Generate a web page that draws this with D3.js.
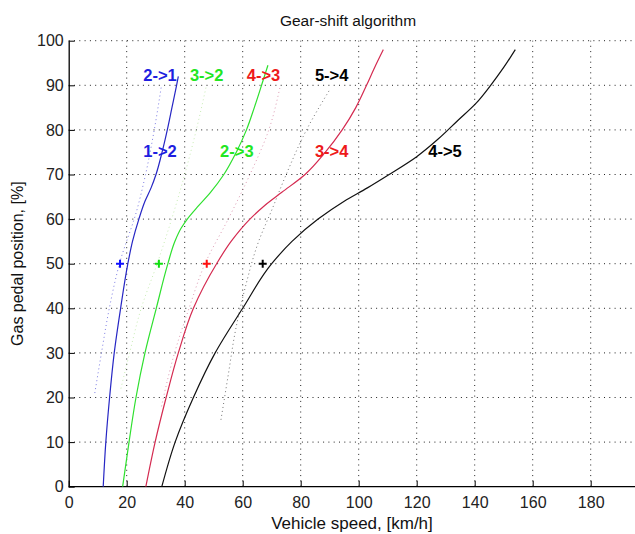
<!DOCTYPE html>
<html>
<head>
<meta charset="utf-8">
<script src="https://cdn.jsdelivr.net/npm/d3@7"></script>
<style>
  body { margin: 0; background: #fff; }
  svg text { font-family: "Liberation Sans", Arial, sans-serif; }
</style>
</head>
<body>
<div id="chart"></div>
<script>
// upshift curves (solid): pedal position [%] -> speed [km/h]
var up12Pedal = [0, 10, 20, 30, 40, 50, 55, 60, 64, 67, 70, 75, 80, 85, 90, 92];
var up12Speed = [11.9, 12.8, 14.1, 15.7, 17.9, 20.4, 22, 24.2, 26.3, 28.4, 30.1, 32.2, 34, 35.6, 37.2, 37.8];
var up23Pedal = [0, 10, 20, 30, 40, 50, 55, 58, 60, 63, 66, 70, 75, 80, 85, 90, 94.5];
var up23Speed = [18.6, 20.8, 23.2, 26.3, 30.2, 34.2, 36.6, 38.8, 40.9, 44.8, 48.9, 53.5, 57.8, 61.3, 64, 66.5, 68.7];
var up34Pedal = [0, 10, 20, 30, 40, 50, 55, 60, 63, 66, 70, 75, 80, 85, 90, 94, 98];
var up34Speed = [26.6, 29.8, 33.6, 37.8, 43, 51, 56, 62.5, 67.5, 73.5, 81.5, 88.5, 94.3, 99, 102.7, 105.5, 108.5];
var up45Pedal = [0, 10, 20, 30, 40, 50, 55, 60, 64, 67, 70, 74, 78, 82, 86, 90, 94, 98];
var up45Speed = [32.1, 36.7, 43, 50.5, 60, 70, 77, 86, 95, 103, 110.5, 120, 127.5, 134, 140.5, 145.5, 150, 154];

// downshift curves (dotted)
var down21Pedal = [21, 30, 40, 50, 62, 70, 80, 90];
var down21Speed = [9, 11.3, 14, 17.5, 23.5, 26.5, 29.5, 32];
var down32Pedal = [22, 30, 40, 50, 60, 70, 80, 90];
var down32Speed = [18, 21, 25, 30.5, 35.5, 40, 44, 47.5];
var down43Pedal = [18, 30, 40, 50, 60, 70, 80, 90];
var down43Speed = [32, 36.5, 41.5, 47, 55, 62.5, 69, 73];
var down54Pedal = [15, 25, 35, 45, 55, 62, 70, 80, 89];
var down54Speed = [52.5, 55, 57.5, 61, 65.5, 70, 75, 82, 90];

// markers at 50 %
var markSpeed = [17.7, 31.1, 47.6, 66.9];
var markPedal = [50, 50, 50, 50];

// labels
var labelText  = ["2->1", "3->2", "4->3", "5->4", "1->2", "2->3", "3->4", "4->5"];
var labelSpeed = [25.7, 41.8, 61.4, 84.9, 25.7, 52.2, 84.9, 124];
var labelPedal = [92.2, 92.2, 92.2, 92.2, 75.3, 75.3, 75.3, 75.3];

var xTicks = [0, 20, 40, 60, 80, 100, 120, 140, 160, 180];
var yTicks = [0, 10, 20, 30, 40, 50, 60, 70, 80, 90, 100];

var W = 635, H = 534;
var plotLeft = 68.7, plotTop = 40.7, plotBottom = 486.7;

var svg = d3.select("#chart").append("svg")
    .attr("width", W)
    .attr("height", H);

var x = d3.scaleLinear().domain([0, 196]).range([plotLeft, plotLeft + 196 * 2.9]);
var y = d3.scaleLinear().domain([0, 100]).range([plotBottom, plotTop]);

// dotted grid
svg.append("g").selectAll("line")
    .data(xTicks.slice(1))
    .enter().append("line")
    .attr("x1", d => x(d)).attr("x2", d => x(d))
    .attr("y1", y(0)).attr("y2", y(100))
    .attr("stroke", "#222").attr("stroke-width", 1)
    .attr("stroke-dasharray", "1,4.3");
svg.append("g").selectAll("line")
    .data(yTicks.slice(1))
    .enter().append("line")
    .attr("x1", x(0)).attr("x2", W)
    .attr("y1", d => y(d)).attr("y2", d => y(d))
    .attr("stroke", "#222").attr("stroke-width", 1)
    .attr("stroke-dasharray", "1,4.3");

// axes
var xAxis = d3.axisBottom(x).tickValues(xTicks).tickSizeInner(-6).tickSizeOuter(0).tickPadding(10);
var yAxis = d3.axisLeft(y).tickValues(yTicks).tickSizeInner(-6).tickSizeOuter(0).tickPadding(5);

var gx = svg.append("g").attr("transform", "translate(0," + plotBottom + ")").call(xAxis);
var gy = svg.append("g").attr("transform", "translate(" + plotLeft + ",0)").call(yAxis);
[gx, gy].forEach(function(g) {
  g.select(".domain").attr("stroke", "#000").attr("stroke-width", 1.3);
  g.selectAll(".tick line").attr("stroke", "#000");
  g.selectAll(".tick text").attr("font-size", 16).attr("fill", "#222")
    .style("font-family", "'Liberation Sans', Arial, sans-serif");
});
gx.select(".domain").attr("d", "M" + x(0) + ",0H" + W);

var line = d3.line()
    .x(d => x(d[0]))
    .y(d => y(d[1]))
    .curve(d3.curveMonotoneY);

function pairs(s, p) { return s.map((v, i) => [v, p[i]]); }

var curves = [
  {s: down21Speed, p: down21Pedal, c: "#5050d8", dash: "1,3"},
  {s: down32Speed, p: down32Pedal, c: "#b4e49a", dash: "1,3"},
  {s: down43Speed, p: down43Pedal, c: "#cf7898", dash: "1,3"},
  {s: down54Speed, p: down54Pedal, c: "#444", dash: "1,3"},
  {s: up12Speed, p: up12Pedal, c: "#2626c4", dash: null},
  {s: up23Speed, p: up23Pedal, c: "#2ee02e", dash: null},
  {s: up34Speed, p: up34Pedal, c: "#d42a50", dash: null},
  {s: up45Speed, p: up45Pedal, c: "#111", dash: null}
];

svg.append("g").selectAll("path")
    .data(curves)
    .enter().append("path")
    .attr("d", d => line(pairs(d.s, d.p)))
    .attr("fill", "none")
    .attr("stroke", d => d.c)
    .attr("stroke-width", d => d.dash ? 1 : 1.2)
    .attr("stroke-opacity", d => d.dash ? 0.75 : 1)
    .attr("stroke-dasharray", d => d.dash);

// + markers
var markColors = ["#1010ff", "#10e010", "#ff1010", "#000"];
var marks = svg.append("g").selectAll("g")
    .data(markSpeed)
    .enter().append("g")
    .attr("transform", (d, i) => "translate(" + x(d) + "," + y(markPedal[i]) + ")");
marks.append("path")
    .attr("d", "M-4,0H4M0,-4V4")
    .attr("stroke", (d, i) => markColors[i])
    .attr("stroke-width", 2);

// gear labels
var labelColors = ["#1e1ee0", "#22e622", "#ee1a1a", "#000", "#1e1ee0", "#22e622", "#ee1a1a", "#000"];
svg.append("g").selectAll("text")
    .data(labelText)
    .enter().append("text")
    .attr("x", (d, i) => x(labelSpeed[i]))
    .attr("y", (d, i) => y(labelPedal[i]))
    .attr("dy", "0.36em")
    .attr("font-size", 16.5)
    .attr("font-weight", "bold")
    .attr("fill", (d, i) => labelColors[i])
    .text(d => d);

// titles
svg.append("text")
    .attr("x", 348).attr("y", 26)
    .attr("text-anchor", "middle")
    .attr("font-size", 15.5).attr("fill", "#111")
    .text("Gear-shift algorithm");
svg.append("text")
    .attr("x", 352).attr("y", 529)
    .attr("text-anchor", "middle")
    .attr("font-size", 17).attr("fill", "#111")
    .text("Vehicle speed, [km/h]");
svg.append("text")
    .attr("transform", "translate(23," + (plotTop + plotBottom) / 2 + ") rotate(-90)")
    .attr("text-anchor", "middle")
    .attr("font-size", 16).attr("fill", "#111")
    .text("Gas pedal position, [%]");
</script>
</body>
</html>
